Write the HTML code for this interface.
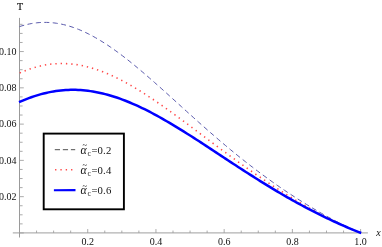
<!DOCTYPE html>
<html><head><meta charset="utf-8"><style>
html,body{margin:0;padding:0;background:#fff;}
svg{display:block;will-change:transform;font-family:"Liberation Serif",serif;}
text{fill:#111;}
</style></head><body>
<svg width="382" height="247" viewBox="0 0 382 247">
<rect width="382" height="247" fill="#fff"/>
<g stroke="#aaaaaa" stroke-width="1.15">
<line x1="12.8" y1="232.95" x2="367.9" y2="232.95" stroke="#b2b2b2" stroke-width="1.3"/>
<line x1="19.5" y1="17.9" x2="19.5" y2="237.5" stroke="#9a9a9a" stroke-width="1.05"/>
<line x1="19.50" y1="232.95" x2="19.50" y2="229.04999999999998" stroke="#9c9c9c" stroke-width="0.85"/>
<line x1="36.56" y1="232.95" x2="36.56" y2="230.54999999999998" stroke="#9c9c9c" stroke-width="0.85"/>
<line x1="53.61" y1="232.95" x2="53.61" y2="230.54999999999998" stroke="#9c9c9c" stroke-width="0.85"/>
<line x1="70.67" y1="232.95" x2="70.67" y2="230.54999999999998" stroke="#9c9c9c" stroke-width="0.85"/>
<line x1="87.72" y1="232.95" x2="87.72" y2="229.04999999999998" stroke="#9c9c9c" stroke-width="0.85"/>
<line x1="104.78" y1="232.95" x2="104.78" y2="230.54999999999998" stroke="#9c9c9c" stroke-width="0.85"/>
<line x1="121.83" y1="232.95" x2="121.83" y2="230.54999999999998" stroke="#9c9c9c" stroke-width="0.85"/>
<line x1="138.89" y1="232.95" x2="138.89" y2="230.54999999999998" stroke="#9c9c9c" stroke-width="0.85"/>
<line x1="155.94" y1="232.95" x2="155.94" y2="229.04999999999998" stroke="#9c9c9c" stroke-width="0.85"/>
<line x1="173.00" y1="232.95" x2="173.00" y2="230.54999999999998" stroke="#9c9c9c" stroke-width="0.85"/>
<line x1="190.05" y1="232.95" x2="190.05" y2="230.54999999999998" stroke="#9c9c9c" stroke-width="0.85"/>
<line x1="207.11" y1="232.95" x2="207.11" y2="230.54999999999998" stroke="#9c9c9c" stroke-width="0.85"/>
<line x1="224.16" y1="232.95" x2="224.16" y2="229.04999999999998" stroke="#9c9c9c" stroke-width="0.85"/>
<line x1="241.22" y1="232.95" x2="241.22" y2="230.54999999999998" stroke="#9c9c9c" stroke-width="0.85"/>
<line x1="258.27" y1="232.95" x2="258.27" y2="230.54999999999998" stroke="#9c9c9c" stroke-width="0.85"/>
<line x1="275.33" y1="232.95" x2="275.33" y2="230.54999999999998" stroke="#9c9c9c" stroke-width="0.85"/>
<line x1="292.38" y1="232.95" x2="292.38" y2="229.04999999999998" stroke="#9c9c9c" stroke-width="0.85"/>
<line x1="309.44" y1="232.95" x2="309.44" y2="230.54999999999998" stroke="#9c9c9c" stroke-width="0.85"/>
<line x1="326.49" y1="232.95" x2="326.49" y2="230.54999999999998" stroke="#9c9c9c" stroke-width="0.85"/>
<line x1="343.55" y1="232.95" x2="343.55" y2="230.54999999999998" stroke="#9c9c9c" stroke-width="0.85"/>
<line x1="360.60" y1="232.95" x2="360.60" y2="229.04999999999998" stroke="#9c9c9c" stroke-width="0.85"/>
<line x1="19.5" y1="232.95" x2="23.8" y2="232.95" stroke="#9c9c9c" stroke-width="0.85"/>
<line x1="19.5" y1="223.88" x2="22.6" y2="223.88" stroke="#9c9c9c" stroke-width="0.85"/>
<line x1="19.5" y1="214.81" x2="22.6" y2="214.81" stroke="#9c9c9c" stroke-width="0.85"/>
<line x1="19.5" y1="205.74" x2="22.6" y2="205.74" stroke="#9c9c9c" stroke-width="0.85"/>
<line x1="19.5" y1="196.67" x2="23.8" y2="196.67" stroke="#9c9c9c" stroke-width="0.85"/>
<line x1="19.5" y1="187.60" x2="22.6" y2="187.60" stroke="#9c9c9c" stroke-width="0.85"/>
<line x1="19.5" y1="178.53" x2="22.6" y2="178.53" stroke="#9c9c9c" stroke-width="0.85"/>
<line x1="19.5" y1="169.46" x2="22.6" y2="169.46" stroke="#9c9c9c" stroke-width="0.85"/>
<line x1="19.5" y1="160.39" x2="23.8" y2="160.39" stroke="#9c9c9c" stroke-width="0.85"/>
<line x1="19.5" y1="151.32" x2="22.6" y2="151.32" stroke="#9c9c9c" stroke-width="0.85"/>
<line x1="19.5" y1="142.25" x2="22.6" y2="142.25" stroke="#9c9c9c" stroke-width="0.85"/>
<line x1="19.5" y1="133.18" x2="22.6" y2="133.18" stroke="#9c9c9c" stroke-width="0.85"/>
<line x1="19.5" y1="124.11" x2="23.8" y2="124.11" stroke="#9c9c9c" stroke-width="0.85"/>
<line x1="19.5" y1="115.04" x2="22.6" y2="115.04" stroke="#9c9c9c" stroke-width="0.85"/>
<line x1="19.5" y1="105.97" x2="22.6" y2="105.97" stroke="#9c9c9c" stroke-width="0.85"/>
<line x1="19.5" y1="96.90" x2="22.6" y2="96.90" stroke="#9c9c9c" stroke-width="0.85"/>
<line x1="19.5" y1="87.83" x2="23.8" y2="87.83" stroke="#9c9c9c" stroke-width="0.85"/>
<line x1="19.5" y1="78.76" x2="22.6" y2="78.76" stroke="#9c9c9c" stroke-width="0.85"/>
<line x1="19.5" y1="69.69" x2="22.6" y2="69.69" stroke="#9c9c9c" stroke-width="0.85"/>
<line x1="19.5" y1="60.62" x2="22.6" y2="60.62" stroke="#9c9c9c" stroke-width="0.85"/>
<line x1="19.5" y1="51.55" x2="23.8" y2="51.55" stroke="#9c9c9c" stroke-width="0.85"/>
<line x1="19.5" y1="42.48" x2="22.6" y2="42.48" stroke="#9c9c9c" stroke-width="0.85"/>
<line x1="19.5" y1="33.41" x2="22.6" y2="33.41" stroke="#9c9c9c" stroke-width="0.85"/>
<line x1="19.5" y1="24.34" x2="22.6" y2="24.34" stroke="#9c9c9c" stroke-width="0.85"/>
</g>
<text x="87.72" y="244.6" font-size="10" text-anchor="middle">0.2</text>
<text x="155.94" y="244.6" font-size="10" text-anchor="middle">0.4</text>
<text x="224.16" y="244.6" font-size="10" text-anchor="middle">0.6</text>
<text x="292.38" y="244.6" font-size="10" text-anchor="middle">0.8</text>
<text x="360.60" y="244.6" font-size="10" text-anchor="middle">1.0</text>
<text x="16.6" y="200.02" font-size="10" text-anchor="end">0.02</text>
<text x="16.6" y="163.74" font-size="10" text-anchor="end">0.04</text>
<text x="16.6" y="127.46" font-size="10" text-anchor="end">0.06</text>
<text x="16.6" y="91.18" font-size="10" text-anchor="end">0.08</text>
<text x="16.6" y="54.90" font-size="10" text-anchor="end">0.10</text>
<text x="20.0" y="9.8" font-size="10" text-anchor="middle" stroke="#111" stroke-width="0.2">T</text>
<text x="378.6" y="235.9" font-size="10" font-style="italic" text-anchor="middle">x</text>
<path d="M19.50,26.62 L21.95,25.84 L24.41,25.14 L26.86,24.52 L29.32,23.97 L31.77,23.51 L34.22,23.13 L36.68,22.82 L39.13,22.60 L41.59,22.45 L44.04,22.39 L46.49,22.40 L48.95,22.49 L51.40,22.66 L53.86,22.90 L56.31,23.22 L58.76,23.62 L61.22,24.09 L63.67,24.63 L66.13,25.24 L68.58,25.93 L71.03,26.68 L73.49,27.50 L75.94,28.39 L78.39,29.34 L80.85,30.36 L83.30,31.44 L85.76,32.58 L88.21,33.78 L90.66,35.04 L93.12,36.35 L95.57,37.72 L98.03,39.14 L100.48,40.61 L102.93,42.13 L105.39,43.70 L107.84,45.31 L110.30,46.97 L112.75,48.67 L115.20,50.41 L117.66,52.19 L120.11,54.01 L122.57,55.86 L125.02,57.75 L127.47,59.67 L129.93,61.62 L132.38,63.59 L134.84,65.60 L137.29,67.63 L139.74,69.68 L142.20,71.76 L144.65,73.85 L147.11,75.97 L149.56,78.10 L152.01,80.24 L154.47,82.40 L156.92,84.58 L159.38,86.76 L161.83,88.96 L164.28,91.16 L166.74,93.37 L169.19,95.59 L171.65,97.81 L174.10,100.03 L176.55,102.25 L179.01,104.48 L181.46,106.70 L183.92,108.93 L186.37,111.15 L188.82,113.37 L191.28,115.58 L193.73,117.78 L196.18,119.99 L198.64,122.18 L201.09,124.36 L203.55,126.54 L206.00,128.70 L208.45,130.86 L210.91,133.00 L213.36,135.14 L215.82,137.26 L218.27,139.37 L220.72,141.46 L223.18,143.54 L225.63,145.61 L228.09,147.66 L230.54,149.69 L232.99,151.71 L235.45,153.72 L237.90,155.71 L240.36,157.68 L242.81,159.64 L245.26,161.58 L247.72,163.50 L250.17,165.40 L252.63,167.29 L255.08,169.16 L257.53,171.02 L259.99,172.86 L262.44,174.68 L264.90,176.48 L267.35,178.27 L269.80,180.03 L272.26,181.79 L274.71,183.52 L277.17,185.24 L279.62,186.94 L282.07,188.62 L284.53,190.29 L286.98,191.94 L289.44,193.57 L291.89,195.18 L294.34,196.78 L296.80,198.36 L299.25,199.93 L301.71,201.47 L304.16,203.01 L306.61,204.52 L309.07,206.02 L311.52,207.49 L313.97,208.96 L316.43,210.40 L318.88,211.83 L321.34,213.23 L323.79,214.62 L326.24,215.99 L328.70,217.35 L331.15,218.68 L333.61,219.99 L336.06,221.28 L338.51,222.54 L340.97,223.79 L343.42,225.01 L345.88,226.21 L348.33,227.38 L350.78,228.52 L353.24,229.64 L355.69,230.72 L358.15,231.78 L360.60,232.80" fill="none" stroke="#5a5aac" stroke-width="1.0" stroke-dasharray="5.0,3.462" stroke-dashoffset="0.13"/>
<path d="M19.50,73.02 L21.95,71.97 L24.41,70.97 L26.86,70.03 L29.32,69.16 L31.77,68.34 L34.22,67.59 L36.68,66.90 L39.13,66.27 L41.59,65.71 L44.04,65.21 L46.49,64.78 L48.95,64.41 L51.40,64.10 L53.86,63.86 L56.31,63.68 L58.76,63.57 L61.22,63.52 L63.67,63.54 L66.13,63.62 L68.58,63.76 L71.03,63.96 L73.49,64.22 L75.94,64.55 L78.39,64.93 L80.85,65.37 L83.30,65.87 L85.76,66.43 L88.21,67.04 L90.66,67.71 L93.12,68.43 L95.57,69.20 L98.03,70.03 L100.48,70.91 L102.93,71.83 L105.39,72.81 L107.84,73.83 L110.30,74.89 L112.75,76.00 L115.20,77.16 L117.66,78.35 L120.11,79.59 L122.57,80.86 L125.02,82.17 L127.47,83.52 L129.93,84.90 L132.38,86.32 L134.84,87.77 L137.29,89.25 L139.74,90.76 L142.20,92.30 L144.65,93.86 L147.11,95.45 L149.56,97.06 L152.01,98.70 L154.47,100.36 L156.92,102.04 L159.38,103.74 L161.83,105.45 L164.28,107.18 L166.74,108.93 L169.19,110.69 L171.65,112.47 L174.10,114.25 L176.55,116.05 L179.01,117.86 L181.46,119.67 L183.92,121.49 L186.37,123.32 L188.82,125.16 L191.28,126.99 L193.73,128.84 L196.18,130.68 L198.64,132.53 L201.09,134.37 L203.55,136.22 L206.00,138.07 L208.45,139.91 L210.91,141.75 L213.36,143.59 L215.82,145.43 L218.27,147.26 L220.72,149.08 L223.18,150.90 L225.63,152.72 L228.09,154.53 L230.54,156.32 L232.99,158.12 L235.45,159.90 L237.90,161.67 L240.36,163.44 L242.81,165.20 L245.26,166.94 L247.72,168.68 L250.17,170.40 L252.63,172.12 L255.08,173.82 L257.53,175.51 L259.99,177.19 L262.44,178.85 L264.90,180.51 L267.35,182.15 L269.80,183.78 L272.26,185.40 L274.71,187.00 L277.17,188.59 L279.62,190.17 L282.07,191.73 L284.53,193.28 L286.98,194.81 L289.44,196.33 L291.89,197.84 L294.34,199.33 L296.80,200.81 L299.25,202.27 L301.71,203.72 L304.16,205.15 L306.61,206.56 L309.07,207.96 L311.52,209.34 L313.97,210.71 L316.43,212.06 L318.88,213.39 L321.34,214.71 L323.79,216.00 L326.24,217.28 L328.70,218.54 L331.15,219.77 L333.61,220.99 L336.06,222.19 L338.51,223.36 L340.97,224.51 L343.42,225.64 L345.88,226.75 L348.33,227.82 L350.78,228.88 L353.24,229.90 L355.69,230.90 L358.15,231.86 L360.60,232.80" fill="none" stroke="#ff4848" stroke-width="1.55" stroke-dasharray="1.35,3.936" stroke-dashoffset="-0.225"/>
<path d="M19.00,102.18 L21.46,101.10 L23.92,100.07 L26.39,99.08 L28.85,98.14 L31.31,97.24 L33.77,96.40 L36.23,95.60 L38.69,94.86 L41.16,94.16 L43.62,93.51 L46.08,92.92 L48.54,92.38 L51.00,91.89 L53.47,91.45 L55.93,91.06 L58.39,90.73 L60.85,90.45 L63.31,90.22 L65.78,90.05 L68.24,89.92 L70.70,89.85 L73.16,89.83 L75.62,89.87 L78.08,89.95 L80.55,90.08 L83.01,90.27 L85.47,90.50 L87.93,90.79 L90.39,91.12 L92.86,91.50 L95.32,91.93 L97.78,92.41 L100.24,92.93 L102.70,93.50 L105.17,94.11 L107.63,94.76 L110.09,95.46 L112.55,96.20 L115.01,96.98 L117.47,97.80 L119.94,98.67 L122.40,99.57 L124.86,100.50 L127.32,101.48 L129.78,102.49 L132.25,103.53 L134.71,104.61 L137.17,105.72 L139.63,106.86 L142.09,108.03 L144.56,109.24 L147.02,110.47 L149.48,111.73 L151.94,113.01 L154.40,114.32 L156.86,115.65 L159.33,117.01 L161.79,118.39 L164.25,119.79 L166.71,121.21 L169.17,122.65 L171.64,124.11 L174.10,125.59 L176.56,127.08 L179.02,128.59 L181.48,130.11 L183.95,131.64 L186.41,133.19 L188.87,134.75 L191.33,136.32 L193.79,137.89 L196.25,139.48 L198.72,141.07 L201.18,142.67 L203.64,144.28 L206.10,145.89 L208.56,147.51 L211.03,149.12 L213.49,150.75 L215.95,152.37 L218.41,153.99 L220.87,155.62 L223.34,157.24 L225.80,158.86 L228.26,160.48 L230.72,162.10 L233.18,163.71 L235.64,165.32 L238.11,166.93 L240.57,168.53 L243.03,170.12 L245.49,171.71 L247.95,173.29 L250.42,174.87 L252.88,176.43 L255.34,177.99 L257.80,179.54 L260.26,181.08 L262.73,182.61 L265.19,184.13 L267.65,185.64 L270.11,187.14 L272.57,188.63 L275.03,190.10 L277.50,191.57 L279.96,193.02 L282.42,194.46 L284.88,195.89 L287.34,197.30 L289.81,198.71 L292.27,200.09 L294.73,201.47 L297.19,202.83 L299.65,204.18 L302.12,205.51 L304.58,206.83 L307.04,208.14 L309.50,209.43 L311.96,210.70 L314.42,211.96 L316.89,213.21 L319.35,214.44 L321.81,215.66 L324.27,216.86 L326.73,218.05 L329.20,219.22 L331.66,220.38 L334.12,221.52 L336.58,222.64 L339.04,223.75 L341.51,224.85 L343.97,225.93 L346.43,226.99 L348.89,228.04 L351.35,229.07 L353.81,230.08 L356.28,231.08 L358.74,232.07 L361.20,233.03" fill="none" stroke="#0000ff" stroke-width="2.5"/>
<rect x="43.7" y="133.6" width="80.2" height="75.7" fill="#fff" stroke="#000" stroke-width="1.9"/>
<line x1="54.8" y1="149.7" x2="75.2" y2="149.7" stroke="#222" stroke-width="0.8" stroke-dasharray="5.2,2.85"/>
<line x1="55.05" y1="169.8" x2="75.2" y2="169.8" stroke="#ff4848" stroke-width="1.55" stroke-dasharray="1.35,3.98"/>
<line x1="53.9" y1="190.25" x2="75.5" y2="190.2" stroke="#0000ff" stroke-width="2.2"/>
<text x="80.6" y="153.55" font-size="11.80" font-style="italic">α</text>
<text x="82.6" y="148.15" font-size="8.5">~</text>
<text x="87.6" y="155.75" font-size="7.6">c</text>
<text x="91.4" y="153.55" font-size="10.70" letter-spacing="0.15">=0.2</text>
<text x="80.6" y="173.65" font-size="11.80" font-style="italic">α</text>
<text x="82.6" y="168.25" font-size="8.5">~</text>
<text x="87.6" y="175.85" font-size="7.6">c</text>
<text x="91.4" y="173.65" font-size="10.70" letter-spacing="0.15">=0.4</text>
<text x="80.6" y="194.05" font-size="11.80" font-style="italic">α</text>
<text x="82.6" y="188.65" font-size="8.5">~</text>
<text x="87.6" y="196.25" font-size="7.6">c</text>
<text x="91.4" y="194.05" font-size="10.70" letter-spacing="0.15">=0.6</text>
</svg>
</body></html>
